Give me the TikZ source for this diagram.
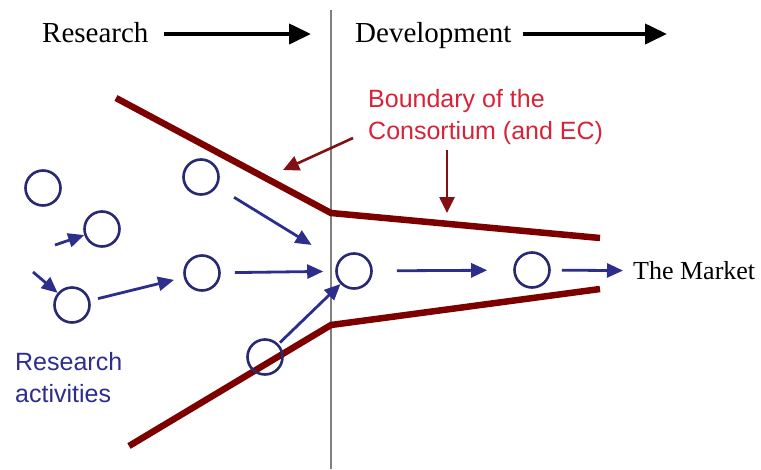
\documentclass[tikz,border=0pt]{standalone}
\usepackage{fontspec}
\setmainfont{Liberation Serif}
\newfontfamily\labelsans{Liberation Sans}
\usetikzlibrary{arrows.meta}
\definecolor{boundred}{RGB}{125,0,0}
\definecolor{notered}{RGB}{215,35,55}
\definecolor{arrowred}{RGB}{130,15,20}
\definecolor{actblue}{RGB}{45,45,140}
\definecolor{ringblue}{RGB}{40,40,115}
\definecolor{divider}{RGB}{128,128,128}

\begin{document}
\begin{tikzpicture}[x=1pt, y=-1pt,
  activity/.style={circle, draw=ringblue, line width=2.6pt, minimum size=35pt, inner sep=0pt},
  flow/.style={-{Triangle[length=16pt,width=14pt]}, line width=2.8pt, actblue},
  phase/.style={-{Triangle[length=22pt,width=20pt]}, line width=4pt, black},
  pointer/.style={-{Triangle[length=16pt,width=15pt]}, line width=2.6pt, arrowred},
  boundary/.style={line width=6.5pt, boundred},
  heading/.style={font=\fontsize{29}{34}\selectfont, anchor=west, inner sep=0pt, text height=20pt, text depth=4pt}]
  \useasboundingbox (0,0) rectangle (761,469);

  % research | development divider
  \draw[line width=2.6pt, divider] (331,10) -- (331,469);

  \node[heading] (research) at (42,34) {Research};
  \node[heading] (develop) at (355,34) {Development};
  \coordinate (resEnd) at (311,34);
  \coordinate (devEnd) at (667,34);
  \draw[phase, shorten <=15pt] (research) -- (resEnd);
  \draw[phase, shorten <=11pt] (develop) -- (devEnd);

  % consortium boundary
  \draw[boundary] (116,98) -- (331,213) -- (600,238);
  \draw[boundary] (129,446) -- (331,325) -- (600,289);

  \node[anchor=north west, inner sep=0pt, align=left, text=notered,
        font=\labelsans\fontsize{25}{32}\selectfont] (consortium) at (368,89)
        {Boundary of the\\Consortium (and EC)};
  \coordinate (ptrA) at (353,138);
  \coordinate (ptrAEnd) at (283,170);
  \coordinate (ptrB) at (447,150);
  \coordinate (ptrBEnd) at (447,213);
  \draw[pointer] (ptrA) -- (ptrAEnd);
  \draw[pointer] (ptrB) -- (ptrBEnd);

  % research activities
  \node[activity] (c1) at (43,188) {};
  \node[activity] (c2) at (102,229) {};
  \node[activity] (c3) at (201,177) {};
  \node[activity] (c4) at (72,305) {};
  \node[activity] (c5) at (202,273) {};
  \node[activity] (c6) at (265,357) {};
  \node[activity] (c7) at (354,271) {};
  \node[activity] (c8) at (532,270) {};
  \node[anchor=west, inner sep=0pt, font=\fontsize{26}{30}\selectfont] (market) at (633,271) {The Market};

  \node[anchor=north west, inner sep=0pt, align=left, text=actblue,
        font=\labelsans\fontsize{25}{32}\selectfont] (reslabel) at (15,352)
        {Research\\activities};

  \coordinate (inA) at (55,245);
  \coordinate (inB) at (33,272);
  \draw[flow] (inA) -- (c2);
  \draw[flow] (inB) -- (c4);
  \draw[flow, shorten <=8pt, shorten >=10pt] (c4) -- (c5);
  \draw[flow, shorten <=14pt, shorten >=12pt] (c5) -- (c7);
  \draw[flow, shorten <=20pt, shorten >=31pt] (c3) -- (c7);
  \draw[flow, shorten <=2pt] (c6) -- (c7);
  \draw[flow, shorten <=24pt, shorten >=26pt] (c7) -- (c8);
  \draw[flow, shorten <=11pt, shorten >=10pt] (c8) -- (market);
\end{tikzpicture}
\end{document}
